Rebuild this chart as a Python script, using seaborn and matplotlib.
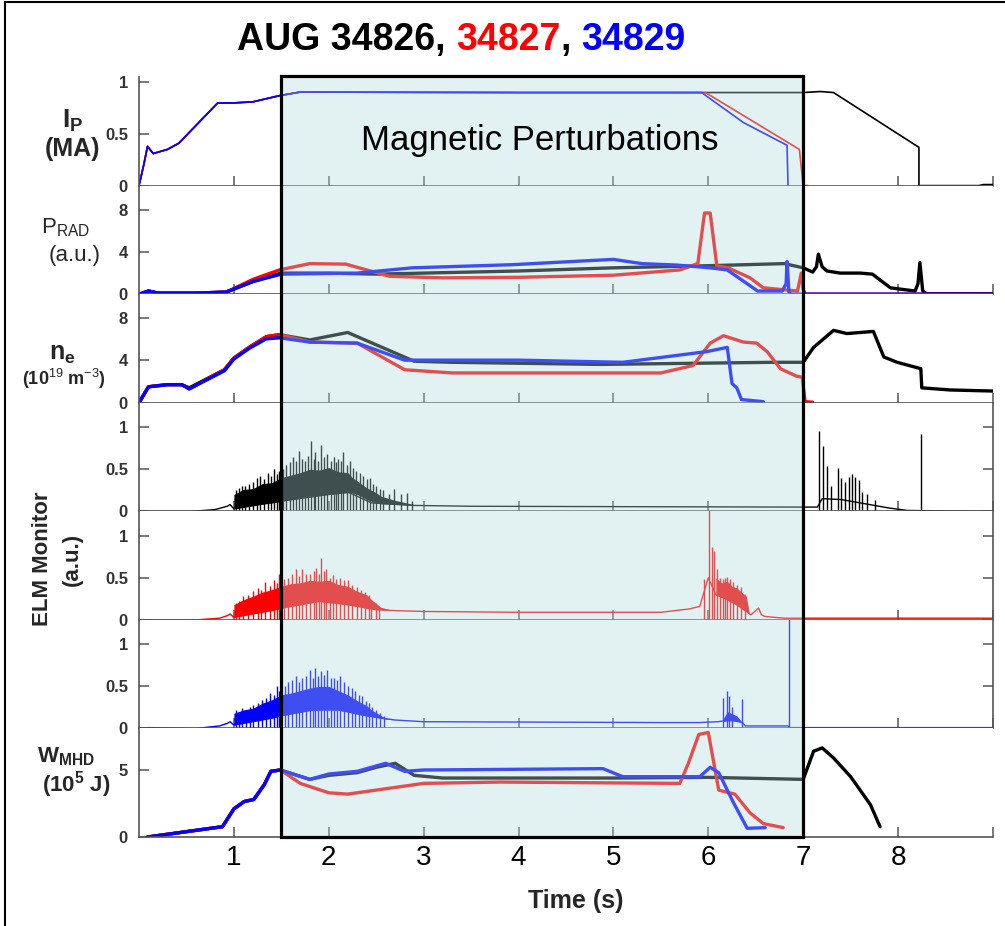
import numpy as np
import matplotlib
matplotlib.use("Agg")
import matplotlib.pyplot as plt
import matplotlib.transforms as mtransforms
from matplotlib.patches import Rectangle
from matplotlib.lines import Line2D
import seaborn as sns

sns.set_style("ticks")
plt.rcParams['font.family'] = ['Liberation Sans', 'DejaVu Sans']
plt.rcParams['mathtext.fontset'] = 'custom'
plt.rcParams['mathtext.rm'] = 'Liberation Sans'
plt.rcParams['mathtext.it'] = 'Liberation Sans:italic'
plt.rcParams['mathtext.bf'] = 'Liberation Sans:bold'

C826, C827, C829 = "#000000", "#ff0000", "#0000ff"

# ---------------- Plasma current (MA) ----------------
ip_826_t = [0.0, 0.05, 0.09, 0.15, 0.3, 0.42, 0.83, 1.0, 1.2, 1.48, 1.7, 4.0, 7.0, 7.18, 7.32, 8.22, 8.22, 8.85, 8.9, 9.0]
ip_826 = [0.0, 0.2, 0.38, 0.31, 0.35, 0.41, 0.80, 0.80, 0.81, 0.87, 0.905, 0.90, 0.90, 0.91, 0.90, 0.37, 0.0, 0.0, 0.01, 0.01]
ip_827_t = [0.0, 0.05, 0.09, 0.15, 0.3, 0.42, 0.83, 1.0, 1.2, 1.48, 1.7, 4.0, 5.97, 6.96, 7.0, 7.05]
ip_827 = [0.0, 0.2, 0.38, 0.31, 0.35, 0.41, 0.80, 0.80, 0.81, 0.87, 0.905, 0.90, 0.90, 0.35, 0.0, 0.0]
ip_829_t = [0.0, 0.05, 0.09, 0.15, 0.3, 0.42, 0.83, 1.0, 1.2, 1.48, 1.7, 4.0, 5.93, 6.37, 6.83, 6.84]
ip_829 = [0.0, 0.2, 0.38, 0.31, 0.35, 0.41, 0.80, 0.80, 0.81, 0.87, 0.905, 0.90, 0.90, 0.61, 0.39, 0.0]

# ---------------- Radiated power (a.u.) ----------------
prad_826_t = [0.0, 0.1, 0.2, 0.6, 0.92, 1.2, 1.5, 2.0, 2.5, 3.0, 4.0, 5.0, 6.0, 6.8, 7.0, 7.1, 7.14, 7.16, 7.2, 7.25, 7.39, 7.6, 7.73, 7.92, 8.18, 8.21, 8.23, 8.26, 8.3, 9.0]
prad_826 = [0.0, 0.3, 0.1, 0.1, 0.2, 1.2, 2.0, 2.0, 1.9, 2.0, 2.2, 2.5, 2.7, 2.9, 2.5, 2.1, 2.6, 3.8, 2.6, 2.2, 2.0, 2.0, 1.9, 0.6, 0.3, 1.0, 3.0, 0.3, 0.05, 0.05]
prad_827_t = [0.0, 0.1, 0.2, 0.6, 0.92, 1.2, 1.48, 1.8, 2.18, 2.64, 3.2, 4.0, 5.0, 5.7, 5.89, 5.96, 6.02, 6.09, 6.21, 6.44, 6.58, 6.94, 6.98, 7.0, 7.02, 9.0]
prad_827 = [0.0, 0.3, 0.1, 0.1, 0.2, 1.4, 2.3, 2.9, 2.85, 1.7, 1.55, 1.6, 1.8, 2.3, 2.9, 7.7, 7.7, 2.7, 2.5, 1.55, 0.6, 0.3, 2.0, 0.5, 0.0, 0.0]
prad_829_t = [0.0, 0.1, 0.2, 0.6, 0.92, 1.2, 1.5, 2.3, 2.88, 3.94, 4.78, 5.0, 5.3, 5.67, 6.02, 6.2, 6.37, 6.52, 6.78, 6.82, 6.83, 6.85, 6.87, 9.0]
prad_829 = [0.0, 0.3, 0.1, 0.1, 0.2, 1.2, 1.9, 2.0, 2.5, 2.8, 3.2, 3.3, 2.9, 2.76, 2.5, 2.3, 1.24, 0.3, 0.3, 1.0, 3.1, 0.2, 0.0, 0.0]

# ---------------- Line-averaged density (1e19 m^-3) ----------------
ne_826_t = [0.0, 0.1, 0.3, 0.45, 0.53, 0.9, 1.0, 1.16, 1.34, 1.48, 1.8, 2.2, 2.9, 3.3, 4.86, 6.69, 7.0, 7.11, 7.32, 7.46, 7.74, 7.85, 7.99, 8.24, 8.25, 8.55, 9.0]
ne_826 = [0.0, 1.5, 1.7, 1.7, 1.4, 3.1, 4.2, 5.2, 6.2, 6.4, 5.9, 6.6, 3.9, 3.8, 3.6, 3.8, 3.8, 5.2, 6.8, 6.5, 6.7, 4.3, 3.8, 3.2, 1.4, 1.2, 1.1]
ne_827_t = [0.0, 0.1, 0.3, 0.45, 0.53, 0.9, 1.0, 1.16, 1.34, 1.48, 1.8, 2.3, 2.8, 3.3, 5.5, 5.84, 6.02, 6.16, 6.37, 6.51, 6.62, 6.76, 6.93, 6.99, 7.02, 7.1]
ne_827 = [0.0, 1.5, 1.7, 1.7, 1.3, 3.1, 4.2, 5.2, 6.2, 6.4, 5.7, 5.6, 3.1, 2.8, 2.8, 3.5, 5.6, 6.3, 5.7, 5.6, 4.8, 3.2, 2.5, 2.4, 0.1, 0.05]
ne_829_t = [0.0, 0.1, 0.3, 0.45, 0.53, 0.9, 1.0, 1.16, 1.34, 1.48, 1.8, 2.3, 2.8, 4.0, 5.1, 5.98, 6.2, 6.25, 6.3, 6.35, 6.58]
ne_829 = [0.0, 1.5, 1.7, 1.7, 1.3, 3.0, 4.1, 5.1, 6.0, 6.1, 5.7, 5.6, 4.0, 4.0, 3.8, 4.8, 5.2, 1.8, 1.4, 0.3, 0.1]

# ---------------- ELM monitor (a.u.) : baseline, dense band, resolved spikes ----------------
elm_826_base_t = [0.0, 0.55, 0.8, 0.93, 0.96, 1.0, 1.5, 2.0, 2.2, 2.45, 2.9, 3.5, 7.0, 7.15, 7.2, 7.4, 7.6, 7.9, 8.1, 9.0]
elm_826_base = [0.0, 0.0, 0.02, 0.06, 0.08, 0.03, 0.12, 0.2, 0.23, 0.1, 0.07, 0.06, 0.05, 0.05, 0.15, 0.14, 0.1, 0.04, 0.01, 0.0]
elm_826_band_t = [1.0, 1.1, 1.2, 1.3, 1.4, 1.5, 1.6, 1.7, 1.8, 1.9, 2.0, 2.1, 2.2, 2.25, 2.3, 2.4, 2.5, 2.55, 2.7, 2.9]
elm_826_band_lo = [0.03, 0.05, 0.07, 0.09, 0.1, 0.12, 0.14, 0.16, 0.18, 0.19, 0.2, 0.21, 0.22, 0.22, 0.2, 0.14, 0.1, 0.09, 0.08, 0.07]
elm_826_band_hi = [0.2, 0.26, 0.27, 0.33, 0.34, 0.4, 0.43, 0.46, 0.5, 0.49, 0.52, 0.47, 0.46, 0.4, 0.36, 0.28, 0.22, 0.18, 0.13, 0.08]
elm_826_spk_t = [1.02, 1.05, 1.09, 1.12, 1.16, 1.2, 1.24, 1.28, 1.32, 1.36, 1.39, 1.42, 1.45, 1.48, 1.52, 1.55,
                 1.59, 1.62, 1.66, 1.69, 1.72, 1.75, 1.78, 1.81, 1.84, 1.86, 1.89, 1.92, 1.95, 1.98, 2.02,
                 2.05, 2.08, 2.1, 2.13, 2.15, 2.19, 2.22, 2.26, 2.29, 2.33, 2.36, 2.4, 2.43, 2.47, 2.5, 2.54,
                 2.57, 2.63, 2.69, 2.76, 2.82, 2.88,
                 7.17, 7.21, 7.25, 7.29, 7.37, 7.40, 7.44, 7.48, 7.51, 7.55, 7.59, 7.62, 7.67, 7.76, 8.24]
elm_826_spk = [0.25, 0.28, 0.3, 0.3, 0.33, 0.35, 0.4, 0.42, 0.38, 0.45, 0.42, 0.5, 0.44, 0.48, 0.5, 0.55,
               0.58, 0.65, 0.6, 0.72, 0.62, 0.6, 0.66, 0.83, 0.62, 0.7, 0.6, 0.79, 0.64, 0.68, 0.6,
               0.65, 0.58, 0.62, 0.6, 0.7, 0.55, 0.6, 0.52, 0.48, 0.45, 0.42, 0.38, 0.39, 0.33, 0.3, 0.26,
               0.25, 0.2, 0.27, 0.2, 0.22, 0.12,
               0.96, 0.78, 0.54, 0.3, 0.52, 0.39, 0.35, 0.41, 0.44, 0.41, 0.37, 0.23, 0.21, 0.13, 0.92]

elm_827_base_t = [0.0, 0.6, 0.85, 0.93, 0.96, 1.0, 1.5, 1.9, 2.2, 2.5, 2.7, 3.0, 4.0, 5.5, 5.8, 5.91, 5.96, 6.0,
                  6.08, 6.2, 6.3, 6.4, 6.45, 6.53, 6.56, 6.6, 6.8, 9.0]
elm_827_base = [0.0, 0.0, 0.02, 0.05, 0.07, 0.03, 0.14, 0.22, 0.18, 0.12, 0.11, 0.1, 0.09, 0.09, 0.13, 0.16, 0.35, 0.5,
                0.3, 0.24, 0.18, 0.1, 0.06, 0.14, 0.06, 0.04, 0.02, 0.02]
elm_827_band_t = [1.0, 1.1, 1.2, 1.3, 1.4, 1.5, 1.6, 1.7, 1.8, 1.9, 2.0, 2.1, 2.2, 2.3, 2.4, 2.45, 2.55, 2.65,
                  6.08, 6.14, 6.2, 6.25, 6.3, 6.35, 6.4, 6.43]
elm_827_band_lo = [0.03, 0.05, 0.07, 0.09, 0.11, 0.14, 0.16, 0.18, 0.2, 0.22, 0.21, 0.2, 0.18, 0.16, 0.14, 0.13, 0.12, 0.11,
                   0.3, 0.27, 0.24, 0.21, 0.18, 0.14, 0.1, 0.07]
elm_827_band_hi = [0.18, 0.24, 0.28, 0.33, 0.36, 0.4, 0.43, 0.44, 0.47, 0.46, 0.47, 0.42, 0.4, 0.34, 0.3, 0.24, 0.15, 0.12,
                   0.5, 0.44, 0.46, 0.4, 0.38, 0.33, 0.28, 0.1]
elm_827_spk_t = [1.02, 1.05, 1.1, 1.15, 1.2, 1.25, 1.29, 1.33, 1.38, 1.42, 1.45, 1.48, 1.53, 1.57, 1.61, 1.65,
                 1.69, 1.72, 1.76, 1.8, 1.84, 1.87, 1.9, 1.92, 1.95, 1.97, 2.01, 2.04, 2.08, 2.12, 2.16, 2.2,
                 2.25, 2.3, 2.34, 2.38, 2.42, 2.45, 2.5, 2.53,
                 5.96, 6.01, 6.04, 6.06, 6.09, 6.12, 6.16, 6.18, 6.2, 6.23, 6.26, 6.3, 6.34, 6.39, 7.0]
elm_827_spk = [0.2, 0.22, 0.28, 0.3, 0.34, 0.38, 0.35, 0.45, 0.4, 0.47, 0.44, 0.55, 0.48, 0.5, 0.55, 0.6,
               0.52, 0.61, 0.55, 0.55, 0.58, 0.62, 0.55, 0.73, 0.58, 0.6, 0.5, 0.53, 0.48, 0.5, 0.47, 0.47,
               0.42, 0.39, 0.36, 0.33, 0.3, 0.24, 0.2, 0.14,
               0.49, 1.31, 0.86, 0.82, 0.6, 0.5, 0.48, 0.5, 0.51, 0.48, 0.45, 0.42, 0.39, 0.31, 1.06]

elm_829_base_t = [0.0, 0.1, 0.6, 0.85, 0.93, 0.96, 1.0, 1.5, 1.8, 2.1, 2.4, 2.7, 3.0, 5.5, 5.9, 6.1, 6.23, 6.36,
                  6.39, 6.84, 6.86, 9.0]
elm_829_base = [0.0, 0.01, 0.0, 0.03, 0.06, 0.08, 0.04, 0.15, 0.22, 0.22, 0.15, 0.1, 0.08, 0.07, 0.07, 0.08, 0.1,
                0.07, 0.03, 0.03, 0.01, 0.01]
elm_829_band_t = [1.0, 1.1, 1.2, 1.3, 1.4, 1.5, 1.6, 1.7, 1.8, 1.9, 2.0, 2.1, 2.2, 2.3, 2.4, 2.45, 2.6, 2.7,
                  6.15, 6.2, 6.3, 6.36]
elm_829_band_lo = [0.04, 0.06, 0.08, 0.1, 0.12, 0.15, 0.17, 0.19, 0.21, 0.22, 0.22, 0.22, 0.2, 0.17, 0.15, 0.14, 0.11, 0.1,
                   0.08, 0.09, 0.09, 0.07]
elm_829_band_hi = [0.18, 0.22, 0.24, 0.3, 0.34, 0.4, 0.42, 0.45, 0.48, 0.5, 0.5, 0.45, 0.4, 0.33, 0.27, 0.22, 0.12, 0.1,
                   0.1, 0.2, 0.15, 0.07]
elm_829_spk_t = [1.02, 1.05, 1.09, 1.13, 1.17, 1.2, 1.25, 1.3, 1.34, 1.38, 1.42, 1.45, 1.48, 1.5, 1.54, 1.57,
                 1.61, 1.65, 1.69, 1.72, 1.76, 1.8, 1.83, 1.85, 1.89, 1.92, 1.95, 1.98, 2.02, 2.05, 2.09, 2.12,
                 2.16, 2.2, 2.24, 2.28, 2.32, 2.35, 2.39, 2.42, 2.46, 2.5, 2.54, 2.58,
                 6.15, 6.2, 6.22, 6.25, 6.36, 6.85]
elm_829_spk = [0.22, 0.2, 0.24, 0.22, 0.26, 0.28, 0.3, 0.34, 0.36, 0.42, 0.4, 0.5, 0.45, 0.6, 0.5, 0.55,
               0.58, 0.62, 0.55, 0.6, 0.62, 0.7, 0.6, 0.72, 0.62, 0.68, 0.64, 0.7, 0.6, 0.6, 0.58, 0.62,
               0.55, 0.5, 0.48, 0.45, 0.4, 0.38, 0.33, 0.3, 0.26, 0.22, 0.18, 0.15,
               0.36, 0.44, 0.38, 0.26, 0.35, 1.35]

# ---------------- Stored energy (1e5 J) ----------------
w_826_t = [0.09, 0.88, 1.0, 1.11, 1.21, 1.32, 1.39, 1.49, 1.8, 2.0, 2.3, 2.5, 2.7, 2.9, 3.2, 3.8, 5.0, 6.0, 7.0, 7.11, 7.2, 7.32, 7.5, 7.71, 7.81]
w_826 = [0.0, 0.77, 2.1, 2.65, 2.8, 3.9, 4.9, 5.0, 4.3, 4.6, 4.8, 5.2, 5.5, 4.6, 4.4, 4.4, 4.4, 4.45, 4.3, 6.4, 6.65, 5.9, 4.5, 2.4, 0.77]
w_827_t = [0.09, 0.88, 1.0, 1.11, 1.21, 1.32, 1.39, 1.49, 1.7, 2.0, 2.2, 2.5, 2.8, 3.0, 3.8, 5.7, 5.79, 5.9, 6.0, 6.11, 6.28, 6.44, 6.58, 6.79]
w_827 = [0.0, 0.77, 2.1, 2.65, 2.8, 3.9, 4.9, 5.0, 4.0, 3.3, 3.2, 3.5, 3.8, 4.0, 4.1, 4.0, 5.5, 7.65, 7.8, 3.5, 3.2, 1.8, 1.0, 0.7]
w_829_t = [0.09, 0.88, 1.0, 1.11, 1.21, 1.32, 1.39, 1.49, 1.8, 2.0, 2.3, 2.6, 2.8, 3.0, 4.89, 5.1, 5.91, 6.02, 6.11, 6.27, 6.41, 6.6]
w_829 = [0.0, 0.77, 2.1, 2.65, 2.8, 3.9, 4.9, 5.0, 4.3, 4.7, 4.9, 5.5, 4.9, 5.0, 5.1, 4.5, 4.5, 5.2, 4.8, 2.5, 0.65, 0.7]

x_ticks = [1, 2, 3, 4, 5, 6, 7, 8, 9]
x_ticklabels = ["1", "2", "3", "4", "5", "6", "7", "8", ""]
mp_window = (1.5, 7.0)

# ---------------- Figure ----------------
fig = plt.figure(figsize=(10.05, 9.26), dpi=100)
axes = fig.subplots(7, 1, sharex=True)
fig.subplots_adjust(left=0.1383, right=0.988, top=0.9168, bottom=0.0961, hspace=0)

SPC = "#555555"


def line(ax, t, v, c, lw):
    sns.lineplot(x=t, y=v, ax=ax, color=c, lw=lw, estimator=None, sort=False, legend=False)


def elm(ax, bt, bv, ft, flo, fhi, st, sv, c):
    line(ax, bt, bv, c, 1.0)
    ft = np.asarray(ft); flo = np.asarray(flo); fhi = np.asarray(fhi)
    breaks = np.where(np.diff(ft) > 1.0)[0] + 1
    for seg in np.split(np.arange(len(ft)), breaks):
        ax.fill_between(ft[seg], flo[seg], fhi[seg], color=c, lw=0)
    ax.vlines(st, 0, sv, color=c, lw=1.0)


# Ip
ax = axes[0]
line(ax, ip_826_t, ip_826, C826, 1.2)
line(ax, ip_827_t, ip_827, C827, 1.2)
line(ax, ip_829_t, ip_829, C829, 1.2)
ax.set_ylim(0, 1.05)
ax.set_yticks([0, 0.5, 1]); ax.set_yticklabels(["0", "0.5", "1"])

# Prad
ax = axes[1]
line(ax, prad_826_t, prad_826, C826, 2.4)
line(ax, prad_827_t, prad_827, C827, 2.4)
line(ax, prad_829_t, prad_829, C829, 2.4)
ax.set_ylim(0, 10.3)
ax.set_yticks([0, 4, 8])

# ne
ax = axes[2]
line(ax, ne_826_t, ne_826, C826, 2.4)
line(ax, ne_827_t, ne_827, C827, 2.4)
line(ax, ne_829_t, ne_829, C829, 2.4)
ax.set_ylim(0, 10.2)
ax.set_yticks([0, 4, 8])

# ELM
elm(axes[3], elm_826_base_t, elm_826_base, elm_826_band_t, elm_826_band_lo, elm_826_band_hi,
    elm_826_spk_t, elm_826_spk, C826)
elm(axes[4], elm_827_base_t, elm_827_base, elm_827_band_t, elm_827_band_lo, elm_827_band_hi,
    elm_827_spk_t, elm_827_spk, C827)
elm(axes[5], elm_829_base_t, elm_829_base, elm_829_band_t, elm_829_band_lo, elm_829_band_hi,
    elm_829_spk_t, elm_829_spk, C829)
for ax in axes[3:6]:
    ax.set_ylim(0, 1.29)
    ax.set_yticks([0, 0.5, 1]); ax.set_yticklabels(["0", "0.5", "1"])

# W_MHD
ax = axes[6]
line(ax, w_826_t, w_826, C826, 2.4)
line(ax, w_827_t, w_827, C827, 2.4)
line(ax, w_829_t, w_829, C829, 2.4)
ax.set_ylim(0, 8.1)
ax.set_yticks([0, 5])

for i, ax in enumerate(axes):
    ax.set_xlim(0, 9)
    ax.set_xticks(x_ticks)
    ax.set_ylabel("")
    ax.spines["top"].set_visible(False)
    is_elm = 3 <= i <= 5
    ax.spines["right"].set_visible(is_elm)
    for s in ("left", "bottom", "right"):
        ax.spines[s].set_color(SPC)
        ax.spines[s].set_linewidth(1.2)
    ax.tick_params(axis="x", direction="in", length=7, width=1.1, color=SPC, labelsize=20,
                   labelcolor="black", pad=6)
    ax.tick_params(axis="y", direction="in", length=7, width=1.1, color=SPC, labelsize=12,
                   labelcolor="#333333", pad=8, right=is_elm, labelright=False)
    for lab in ax.get_yticklabels():
        lab.set_fontweight("bold")

axes[-1].set_xticklabels(x_ticklabels)
axes[-1].set_xlabel("Time (s)", fontsize=18, fontweight="bold", labelpad=12)
axes[-1].xaxis.set_label_coords(0.512, -0.48)

# ---------------- y labels ----------------
def lab(ax, y, s, size, weight="bold", x=-0.078):
    ax.text(x, y, s, transform=ax.transAxes, ha="center", va="center", fontsize=size, fontweight=weight)

lab(axes[0], 0.60, r"$\mathbf{I_P}$", 19)
lab(axes[0], 0.34, "(MA)", 18)
lab(axes[1], 0.61, r"$\mathrm{P_{RAD}}$", 16, "normal", x=-0.086)
lab(axes[1], 0.36, "(a.u.)", 16, "normal", x=-0.075)
lab(axes[2], 0.45, r"$\mathbf{n_e}$", 18, x=-0.090)
lab(axes[2], 0.22, r"(10$^{19}$ m$^{-3}$)", 13, x=-0.088)
lab(axes[6], 0.74, r"$\mathbf{W_{MHD}}$", 16, x=-0.085)
lab(axes[6], 0.48, r"$\mathbf{(10^5\ J)}$", 16, x=-0.074)
fig.text(42 / 1005, 1 - 559 / 926, "ELM Monitor", rotation=90, ha="center", va="center",
         fontsize=16, fontweight="bold")
fig.text(72 / 1005, 1 - 559 / 926, "(a.u.)", rotation=90, ha="center", va="center",
         fontsize=16, fontweight="bold")

# ---------------- Magnetic perturbation window (overlay) ----------------
fig.canvas.draw()
y0 = axes[-1].get_position().y0
y1 = axes[0].get_position().y1
trans = mtransforms.blended_transform_factory(axes[-1].transData, fig.transFigure)
box = Rectangle((mp_window[0], y0), mp_window[1] - mp_window[0], y1 - y0 + 0.001, transform=trans,
                facecolor=(0.69, 0.86, 0.86, 0.36), edgecolor="black", linewidth=2.3, zorder=3)
fig.add_artist(box)
fig.text(4.22, 0.44, "Magnetic Perturbations", transform=axes[0].transData, ha="center", va="center",
         fontsize=25, color="black", zorder=6)

# ---------------- Title in three colours ----------------
t1 = fig.text(0.236, 1 - 40 / 926, "AUG 34826,", fontsize=27, fontweight="bold", color=C826,
              ha="left", va="center")
t2 = fig.text(0, 0, "34827", fontsize=27, fontweight="bold", color=C827)
t3 = fig.text(0, 0, ",", fontsize=27, fontweight="bold", color=C826)
t4 = fig.text(0, 0, "34829", fontsize=27, fontweight="bold", color=C829)
renderer = fig.canvas.get_renderer()
space_px = 0.278 * 27 * 100 / 72
inv = fig.transFigure.inverted()
prev = t1
for t, gap in ((t2, space_px), (t3, 0), (t4, space_px)):
    bb = prev.get_window_extent(renderer)
    x_new = inv.transform((bb.x1 + gap, 0))[0]
    t.set_position((x_new, 1 - 40 / 926))
    t.set_ha("left"); t.set_va("center")
    prev = t

# ---------------- figure frame (top & left) ----------------
fig.add_artist(Line2D([5 / 1005, 5 / 1005], [0, 1 - 2 / 926], transform=fig.transFigure, color="black", lw=1.5))
fig.add_artist(Line2D([5 / 1005, 1], [1 - 2 / 926, 1 - 2 / 926], transform=fig.transFigure, color="black", lw=1.5))

fig.savefig("out.png", dpi=100)
